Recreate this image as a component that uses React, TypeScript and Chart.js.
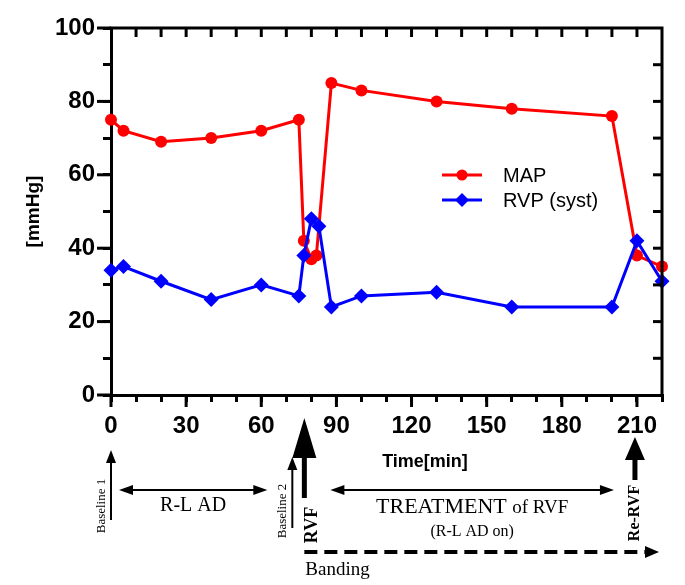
import React, { useEffect, useRef } from "react";
import { Chart, registerables } from "chart.js";
Chart.register(...registerables);

// ---- data ----
const mapTimes = [0, 5, 20, 40, 60, 75, 77, 80, 82, 88, 100, 130, 160, 200, 210, 220];
const mapValues = [75, 72, 69, 70, 72, 75, 42, 37, 38, 85, 83, 80, 78, 76, 38, 35];
const rvpTimes = [0, 5, 20, 40, 60, 75, 77, 80, 83, 88, 100, 130, 160, 200, 210, 220];
const rvpValues = [34, 35, 31, 26, 30, 27, 38, 48, 46, 24, 27, 28, 24, 24, 42, 31];
const xTickLabels = [0, 30, 60, 90, 120, 150, 180, 210];
const yTickLabels = [0, 20, 40, 60, 80, 100];
const seriesNames = ["MAP", "RVP (syst)"];
const xTitle = "Time[min]";
const yTitle = "[mmHg]";

// phase annotations (in minutes)
const baseline1At = 0;
const baseline2At = 72.4;
const rvfAt = 77.2;
const reRvfAt = 209.2;
const rlAdSpan = [3.2, 62.4];
const treatmentSpan = [87.6, 200.8];
const bandingSpan = [77.2, 218.8];

const SANS = '"Liberation Sans", Arial, sans-serif';
const SERIF = '"Liberation Serif", "Times New Roman", serif';
const RED = "#ff0000";
const BLUE = "#0000ff";

function seg(ctx: CanvasRenderingContext2D, x1: number, y1: number, x2: number, y2: number, w: number) {
  ctx.lineWidth = w;
  ctx.beginPath();
  ctx.moveTo(x1, y1);
  ctx.lineTo(x2, y2);
  ctx.stroke();
}

function head(ctx: CanvasRenderingContext2D, tx: number, ty: number, dx: number, dy: number, len: number, half: number) {
  const bx = tx - dx * len;
  const by = ty - dy * len;
  const px = -dy;
  const py = dx;
  ctx.beginPath();
  ctx.moveTo(tx, ty);
  ctx.lineTo(bx + px * half, by + py * half);
  ctx.lineTo(bx - px * half, by - py * half);
  ctx.closePath();
  ctx.fill();
}

function vtext(ctx: CanvasRenderingContext2D, text: string, cx: number, cy: number, font: string) {
  ctx.save();
  ctx.translate(cx, cy);
  ctx.rotate(-Math.PI / 2);
  ctx.font = font;
  ctx.textAlign = "center";
  ctx.textBaseline = "middle";
  ctx.fillText(text, 0, 0);
  ctx.restore();
}

const decorPlugin = {
  id: "decor",
  afterDraw(chart: any) {
    const ctx: CanvasRenderingContext2D = chart.ctx;
    const xs = chart.scales.x;
    const ys = chart.scales.y;
    const X = (v: number) => xs.getPixelForValue(v);
    const { left, right, top, bottom } = chart.chartArea;
    ctx.save();
    ctx.strokeStyle = "#000";
    ctx.fillStyle = "#000";
    ctx.lineCap = "butt";

    // frame top/right
    ctx.lineWidth = 3;
    ctx.beginPath();
    ctx.moveTo(left - 1.5, top);
    ctx.lineTo(right, top);
    ctx.lineTo(right, bottom + 1.5);
    ctx.stroke();
    // inward ticks on top/right, longer outer major ticks on bottom/left
    for (const t of xs.ticks) {
      const px = X(t.value);
      if (xTickLabels.includes(t.value)) seg(ctx, px, bottom, px, bottom + 12, 3);
      if (t.value <= 0 || t.value >= 220) continue;
      seg(ctx, px, top, px, top + 9, 3);
    }
    for (const t of ys.ticks) {
      const py = ys.getPixelForValue(t.value);
      if (yTickLabels.includes(t.value)) seg(ctx, left, py, left - 14, py, 3);
      if (t.value <= 0 || t.value >= 100) continue;
      seg(ctx, right, py, right - 9, py, 3);
    }

    // legend
    const ds = chart.data.datasets;
    const legendY = [175, 200];
    ds.forEach((d: any, i: number) => {
      const y = legendY[i];
      ctx.strokeStyle = d.borderColor;
      ctx.fillStyle = d.backgroundColor;
      seg(ctx, 442, y, 482, y, 3);
      ctx.beginPath();
      if (d.pointStyle === "rectRot") {
        const r = 7;
        ctx.moveTo(462, y - r);
        ctx.lineTo(462 + r, y);
        ctx.lineTo(462, y + r);
        ctx.lineTo(462 - r, y);
        ctx.closePath();
      } else {
        ctx.arc(462, y, 5.5, 0, Math.PI * 2);
      }
      ctx.fill();
      ctx.fillStyle = "#000";
      ctx.font = `20px ${SANS}`;
      ctx.textAlign = "left";
      ctx.textBaseline = "middle";
      ctx.fillText(d.label, 503, y + 1);
    });

    ctx.strokeStyle = "#000";
    ctx.fillStyle = "#000";

    // x title
    ctx.font = `bold 18px ${SANS}`;
    ctx.textAlign = "center";
    ctx.textBaseline = "middle";
    ctx.fillText(xTitle, 425, 462);

    // Baseline 1
    const b1 = X(baseline1At);
    seg(ctx, b1, 520, b1, 460, 2);
    head(ctx, b1, 450, 0, -1, 13, 5);
    vtext(ctx, "Baseline 1", b1 - 9, 506, `13px ${SERIF}`);

    // R-L AD double arrow
    const r1 = X(rlAdSpan[0]);
    const r2 = X(rlAdSpan[1]);
    seg(ctx, r1 + 8, 490, r2 - 8, 490, 2);
    head(ctx, r1, 490, -1, 0, 14, 5);
    head(ctx, r2, 490, 1, 0, 14, 5);
    ctx.font = `20px ${SERIF}`;
    ctx.textAlign = "center";
    ctx.textBaseline = "middle";
    ctx.fillText("R-L AD", (r1 + r2) / 2, 506);

    // Baseline 2
    const b2 = X(baseline2At);
    seg(ctx, b2, 528, b2, 467, 2);
    head(ctx, b2, 457, 0, -1, 13, 5);
    vtext(ctx, "Baseline 2", b2 - 10, 511, `13px ${SERIF}`);

    // RVF big arrow
    const rv = X(rvfAt);
    seg(ctx, rv, 498, rv, 450, 5);
    head(ctx, rv, 418, 0, -1, 40, 12);
    vtext(ctx, "RVF", rv + 8, 525, `bold 18px ${SERIF}`);

    // Treatment double arrow
    const t1 = X(treatmentSpan[0]);
    const t2 = X(treatmentSpan[1]);
    seg(ctx, t1 + 8, 490, t2 - 8, 490, 2);
    head(ctx, t1, 490, -1, 0, 14, 5);
    head(ctx, t2, 490, 1, 0, 14, 5);
    const tc = (t1 + t2) / 2;
    ctx.textBaseline = "alphabetic";
    ctx.textAlign = "left";
    ctx.font = `22px ${SERIF}`;
    const partA = "TREATMENT ";
    const wA = ctx.measureText(partA).width;
    ctx.font = `19px ${SERIF}`;
    const partB = "of RVF";
    const wB = ctx.measureText(partB).width;
    const startX = tc - (wA + wB) / 2;
    ctx.font = `22px ${SERIF}`;
    ctx.fillText(partA, startX, 513);
    ctx.font = `19px ${SERIF}`;
    ctx.fillText(partB, startX + wA, 513);
    ctx.font = `16px ${SERIF}`;
    ctx.textAlign = "center";
    ctx.textBaseline = "middle";
    ctx.fillText("(R-L AD on)", tc, 532);

    // Re-RVF arrow
    const rr = X(reRvfAt);
    seg(ctx, rr, 480, rr, 455, 5);
    head(ctx, rr, 437, 0, -1, 23, 10);
    vtext(ctx, "Re-RVF", rr, 513, `bold 16px ${SERIF}`);

    // Banding dashed arrow
    const d1 = X(bandingSpan[0]);
    const d2 = X(bandingSpan[1]);
    ctx.setLineDash([13, 7]);
    seg(ctx, d1, 552, d2 - 12, 552, 4);
    ctx.setLineDash([]);
    head(ctx, d2, 552, 1, 0, 14, 6);
    ctx.font = `19px ${SERIF}`;
    ctx.textAlign = "left";
    ctx.textBaseline = "middle";
    ctx.fillText("Banding", d1 + 1, 570);

    ctx.restore();
  },
};

export default function App() {
  const ref = useRef<HTMLCanvasElement | null>(null);

  useEffect(() => {
    document.body.style.margin = "0";
    const canvas = ref.current;
    if (!canvas) return;
    const chart = new Chart(canvas, {
      type: "line",
      data: {
        datasets: [
          {
            label: seriesNames[0],
            data: mapTimes.map((t, i) => ({ x: t, y: mapValues[i] })),
            borderColor: RED,
            backgroundColor: RED,
            borderWidth: 3,
            pointStyle: "circle",
            pointRadius: 6,
            pointBorderWidth: 0,
            pointBackgroundColor: RED,
            tension: 0,
            clip: false as any,
            order: 1,
          },
          {
            label: seriesNames[1],
            data: rvpTimes.map((t, i) => ({ x: t, y: rvpValues[i] })),
            borderColor: BLUE,
            backgroundColor: BLUE,
            borderWidth: 3,
            pointStyle: "rectRot",
            pointRadius: 7.5,
            pointBorderWidth: 0,
            pointBackgroundColor: BLUE,
            tension: 0,
            clip: false as any,
            order: 0,
          },
        ],
      },
      options: {
        responsive: false,
        animation: false,
        events: [],
        layout: { padding: { top: 28, right: 23, left: 0, bottom: 0 } },
        plugins: {
          legend: { display: false },
          tooltip: { enabled: false },
        },
        scales: {
          x: {
            type: "linear",
            min: 0,
            max: 220,
            afterFit: (s: any) => {
              s.height = 190;
            },
            grid: {
              display: true,
              drawOnChartArea: false,
              drawTicks: true,
              tickLength: 7,
              color: "#000",
              lineWidth: 3,
            },
            border: { display: true, color: "#000", width: 3 },
            ticks: {
              stepSize: 10,
              autoSkip: false,
              maxRotation: 0,
              padding: 10,
              color: "#000",
              font: { family: SANS, size: 24, weight: "bold" },
              callback: (v: any) => (xTickLabels.includes(Number(v)) ? String(v) : ""),
            },
          },
          y: {
            type: "linear",
            min: 0,
            max: 100,
            afterFit: (s: any) => {
              s.width = 111;
            },
            grid: {
              display: true,
              drawOnChartArea: false,
              drawTicks: true,
              tickLength: 8,
              color: "#000",
              lineWidth: 3,
            },
            border: { display: true, color: "#000", width: 3 },
            title: {
              display: true,
              text: yTitle,
              color: "#000",
              font: { family: SANS, size: 19, weight: "bold" },
              padding: { top: 22, bottom: 0 },
            },
            ticks: {
              stepSize: 10,
              autoSkip: false,
              padding: 8,
              color: "#000",
              font: { family: SANS, size: 24, weight: "bold" },
              callback: (v: any) => (yTickLabels.includes(Number(v)) ? String(v) : ""),
            },
          },
        },
      },
      plugins: [decorPlugin],
    } as any);
    return () => chart.destroy();
  }, []);

  return <canvas ref={ref} width={685} height={585} style={{ display: "block" }} />;
}
